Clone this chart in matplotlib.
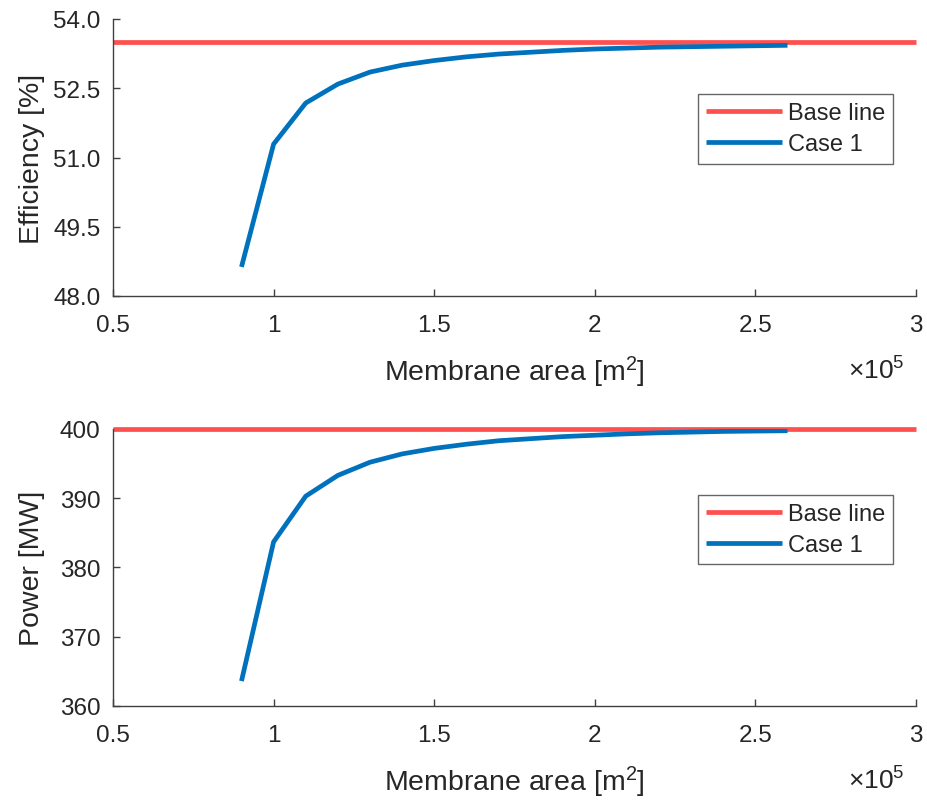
import matplotlib as mpl
import matplotlib.pyplot as plt
import numpy as np
from matplotlib.ticker import FuncFormatter

mpl.rcParams.update(
    {
        "font.family": ["Liberation Sans", "DejaVu Sans"],
        "axes.linewidth": 1.0,
        "mathtext.fontset": "custom",
        "mathtext.rm": "Liberation Sans",
        "mathtext.it": "Liberation Sans",
    }
)

# membrane area [m2]
area = np.array([0.9, 1.0, 1.1, 1.2, 1.3, 1.4, 1.5, 1.6, 1.7, 1.8,
                 1.9, 2.0, 2.1, 2.2, 2.3, 2.4, 2.5, 2.6]) * 1e5
base_x = [0.5e5, 3.0e5]

eff_base = 53.51
eff_case1 = [48.63, 51.29, 52.18, 52.59, 52.85, 53.00, 53.10, 53.18, 53.24,
             53.28, 53.32, 53.35, 53.37, 53.39, 53.40, 53.41, 53.42, 53.43]

pow_base = 400.0
pow_case1 = [363.6, 383.7, 390.3, 393.3, 395.2, 396.4, 397.2, 397.8, 398.3,
             398.6, 398.9, 399.1, 399.3, 399.45, 399.55, 399.65, 399.7, 399.75]

red = "#FF4F4F"
blue = "#0072BD"
axcol = "#404040"
txtcol = "#262626"

fig = plt.figure(figsize=(9.27, 8.04), dpi=100)
W, H = 927, 804
ax1 = fig.add_axes([113 / W, 1 - 297 / H, (916 - 113) / W, (297 - 20) / H])
ax2 = fig.add_axes([113 / W, 1 - 707 / H, (916 - 113) / W, (707 - 430) / H])

panels = [
    (ax1, eff_base, eff_case1, "Efficiency [%]", (48, 54), [48.0, 49.5, 51.0, 52.5, 54.0], "%.1f", 0.729),
    (ax2, pow_base, pow_case1, "Power [MW]", (360, 400), [360, 370, 380, 390, 400], "%g", 0.762),
]

for ax, base, case, ylabel, ylim, yticks, yfmt, leg_y in panels:
    ax.plot(base_x, [base, base], color=red, lw=3.4, label="Base line",
            solid_capstyle="butt", clip_on=False)
    ax.plot(area, case, color=blue, lw=3.4, label="Case 1", solid_capstyle="butt")
    ax.set_xlim(0.5e5, 3.0e5)
    ax.set_ylim(*ylim)
    ax.set_xticks(np.arange(0.5e5, 3.01e5, 0.5e5))
    ax.xaxis.set_major_formatter(FuncFormatter(lambda v, p: "%g" % (v / 1e5)))
    ax.set_yticks(yticks)
    ax.yaxis.set_major_formatter(FuncFormatter(lambda v, p, f=yfmt: f % v))
    for s in ["top", "right"]:
        ax.spines[s].set_visible(False)
    for s in ["left", "bottom"]:
        ax.spines[s].set_color(axcol)
    ax.tick_params(direction="in", length=5, width=1.0, colors=axcol,
                   labelcolor=txtcol, labelsize=17.5)
    ax.tick_params(axis="x", pad=13)
    ax.tick_params(axis="y", pad=9)

    ax.set_ylabel(ylabel, fontsize=20.5, color=txtcol)
    ax.yaxis.set_label_coords(-0.085, 0.5)
    ax.set_xlabel("Membrane area [m$^2$]", fontsize=20.5, color=txtcol)
    ax.xaxis.label.set_va("baseline")
    ax.xaxis.set_label_coords(0.5, -0.303)

    ax.text(0.986, -0.30, r"$\times10^5$", transform=ax.transAxes, ha="right",
            va="baseline", fontsize=19, color=txtcol)

    leg = ax.legend(loc="upper right", bbox_to_anchor=(0.9714, leg_y), fontsize=17,
                    frameon=True, fancybox=False, handlelength=3.2, borderpad=0.35,
                    labelspacing=0.38, handletextpad=0.25, borderaxespad=0)
    leg.get_frame().set_edgecolor(axcol)
    leg.get_frame().set_linewidth(1.0)
    for t in leg.get_texts():
        t.set_color(txtcol)

fig.savefig("out.png", dpi=100)
